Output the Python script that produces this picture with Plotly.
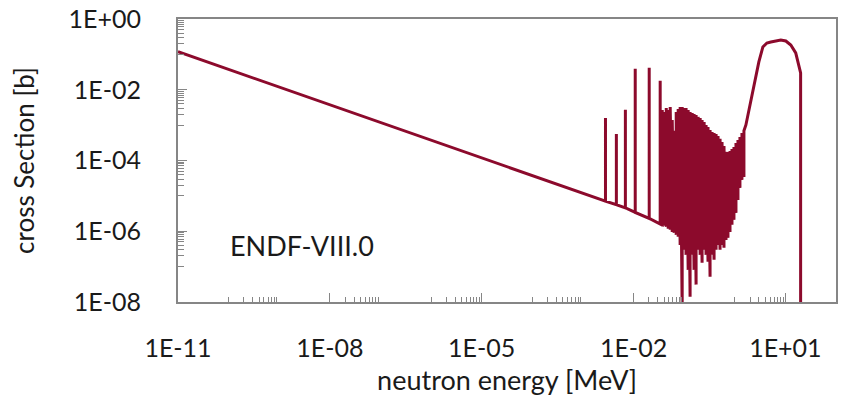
import plotly.graph_objects as go

# ---- data ----
# smooth 1/v part start
start_E = [1e-11]
start_sigma = [0.119]

# isolated resonances: energy [MeV], baseline and peak cross section [b]
spike_E = [2.79e-3, 4.58e-3, 6.9e-3, 1.08e-2, 2.04e-2, 3.36e-2]
spike_base = [7.1e-6, 5.6e-6, 4.6e-6, 3.4e-6, 2.3e-6, 1.6e-6]
spike_peak = [1.6e-3, 5.6e-4, 2.7e-3, 3.9e-2, 4.2e-2, 1.8e-2]

# dense resonance region: energy, upper and lower values
dense_E = [0.0369, 0.0404, 0.0443, 0.0484, 0.0530, 0.0581, 0.0635, 0.0697,
           0.0762, 0.0834, 0.0914, 0.100, 0.109, 0.120, 0.131, 0.144, 0.157,
           0.172, 0.189, 0.207, 0.226, 0.248, 0.271, 0.296, 0.325, 0.356,
           0.390, 0.427, 0.467, 0.512, 0.560, 0.612, 0.671, 0.734, 0.805,
           0.881, 0.964, 1.056, 1.156, 1.265, 1.386, 1.517]
dense_hi = [2.69e-3, 2.36e-3, 3.06e-3, 2.69e-3, 3.27e-3, 1.40e-3, 6.9e-4, 2.36e-3,
            2.87e-3, 3.27e-3, 3.27e-3, 3.06e-3, 3.06e-3, 2.69e-3, 2.36e-3, 2.21e-3,
            2.07e-3, 1.94e-3, 1.71e-3, 1.60e-3, 1.40e-3, 1.23e-3, 1.01e-3, 8.9e-4,
            7.3e-4, 6.4e-4, 6.0e-4, 5.6e-4, 4.95e-4, 4.1e-4, 3.35e-4, 2.58e-4,
            1.75e-4, 1.75e-4, 1.87e-4, 2.13e-4, 2.42e-4, 3.14e-4, 3.8e-4, 4.6e-4,
            6.0e-4, 6.9e-4]
dense_lo = [1.52e-6, 1.42e-6, 1.33e-6, 1.17e-6, 1.10e-6, 9.6e-7, 9.0e-7, 7.9e-7,
            6.95e-7, 4.1e-7, 6e-9, 3.0e-7, 2.15e-7, 8.1e-8, 1.4e-8, 2.15e-7,
            8.1e-8, 3.1e-8, 3.0e-7, 2.15e-7, 1.28e-7, 3.0e-7, 2.15e-7, 1.37e-7,
            5.2e-8, 2.15e-7, 1.56e-7, 3.0e-7, 4.1e-7, 3.0e-7, 4.1e-7, 3.4e-7,
            5.7e-7, 6.5e-7, 9.6e-7, 1.52e-6, 2.1e-6, 3.3e-6, 7.7e-6, 1.68e-5,
            2.83e-5, 3.44e-5]

# fast-neutron hump and cut-off
tail_E = [1.66, 1.99, 2.50, 2.99, 3.59, 4.31, 5.16, 6.47, 8.11, 10.2, 12.8, 16.0, 20.0, 20.0]
tail_sigma = [1.01e-3, 3.72e-3, 1.56e-2, 6.1e-2, 0.162, 0.210, 0.224, 0.239, 0.255,
              0.239, 0.184, 0.110, 0.030, 1e-9]

x_tickvals = [1e-11, 1e-8, 1e-5, 1e-2, 1e1]
x_ticktext = ["1E-11", "1E-08", "1E-05", "1E-02", "1E+01"]
y_tickvals = [1e0, 1e-2, 1e-4, 1e-6, 1e-8]
y_ticktext = ["1E+00", "1E-02", "1E-04", "1E-06", "1E-08"]
label_text = "ENDF-VIII.0"
x_title = "neutron energy [MeV]"
y_title = "cross Section [b]"

# ---- build the series ----
E = list(start_E)
S = list(start_sigma)
for e, b, p in zip(spike_E, spike_base, spike_peak):
    E += [e, e, e]
    S += [b, p, b]
for e, hi, lo in zip(dense_E, dense_hi, dense_lo):
    E += [e, e]
    S += [lo, hi]
E += tail_E
S += tail_sigma

LINE = "#8C0A2C"
AX = "#868686"
FONT = "Lato, 'Open Sans', sans-serif"
TXT = "#1a1a1a"

x_minor = [k * 10.0 ** n for n in (-10, -8, -6, -4, -2, 0) for k in range(1, 10)]
y_minor = [k * 10.0 ** n for n in (-1, -3, -5, -7) for k in range(1, 10)]

fig = go.Figure()
fig.add_trace(go.Scatter(x=E, y=S, mode="lines",
                         line=dict(color=LINE, width=3, shape="linear"),
                         showlegend=False, hoverinfo="skip"))

fig.update_layout(
    width=841, height=407,
    margin=dict(l=178, r=3, t=19, b=105),
    paper_bgcolor="white", plot_bgcolor="white",
    font=dict(family=FONT, color=TXT, size=25),
    showlegend=False,
)
fig.update_xaxes(
    type="log", range=[-11, 2],
    tickmode="array", tickvals=x_tickvals, ticktext=x_ticktext,
    ticks="inside", ticklen=9, tickwidth=1, tickcolor=AX,
    showline=True, linecolor=AX, linewidth=2, mirror=True,
    showgrid=False, zeroline=False,
    tickfont=dict(size=25, family=FONT, color=TXT),
    ticklabelstandoff=23,
    minor=dict(tickmode="array", tickvals=x_minor, ticks="inside", ticklen=5,
               tickwidth=1, tickcolor=AX, showgrid=False),
    title=dict(text=x_title, font=dict(size=27, family=FONT, color=TXT), standoff=10),
)
fig.update_yaxes(
    type="log", range=[-8, 0],
    tickmode="array", tickvals=y_tickvals, ticktext=y_ticktext,
    ticks="inside", ticklen=9, tickwidth=1, tickcolor=AX,
    showline=True, linecolor=AX, linewidth=2, mirror=True,
    showgrid=False, zeroline=False,
    tickfont=dict(size=25, family=FONT, color=TXT),
    ticklabelstandoff=30,
    minor=dict(tickmode="array", tickvals=y_minor, ticks="inside", ticklen=6,
               tickwidth=1, tickcolor=AX, showgrid=False),
    title=dict(text=y_title, font=dict(size=26, family=FONT, color=TXT), standoff=26),
)
fig.add_annotation(x=0.189, y=0.198, xref="paper", yref="paper",
                   text=label_text, showarrow=False,
                   font=dict(size=27, family=FONT, color=TXT),
                   xanchor="center", yanchor="middle")

fig.write_html("out.html")
